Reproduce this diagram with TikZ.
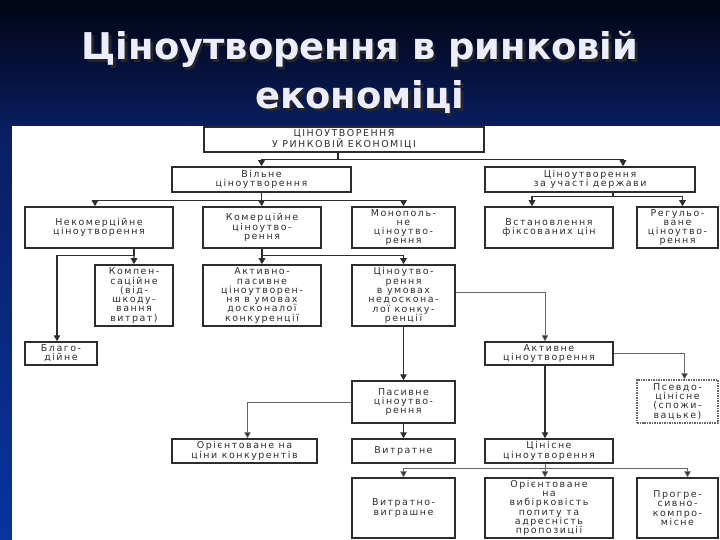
\documentclass[tikz,border=0pt]{standalone}
\usepackage{fontspec}
\setmainfont{DejaVu Sans}
\newfontfamily\boxfont[LetterSpace=16]{DejaVu Sans}
\usetikzlibrary{arrows.meta,positioning,calc}
\definecolor{bgtop}{RGB}{0,4,18}
\definecolor{bgmid}{RGB}{10,30,98}
\definecolor{bgbot}{RGB}{8,52,158}
\definecolor{titlewhite}{RGB}{236,238,255}
\definecolor{lnc}{RGB}{45,45,45}

\begin{document}
\begin{tikzpicture}[
  x=1bp, y=-1bp,
  box/.style={rectangle, draw=lnc, line width=1.5bp, fill=white,
              align=center, text=black!82, inner sep=0pt,
              font=\boxfont\fontsize{9.5}{9.3}\selectfont},
  nbox/.style={box, minimum width=103bp},
  wbox/.style={box, minimum width=128bp},
  rbox/.style={box, minimum width=81bp},
  pbox/.style={rbox, draw=black!60, densely dotted},
  ttl/.style={font=\fontsize{37}{40}\selectfont\bfseries, anchor=base},
  ln/.style={draw=lnc, line width=1.4bp},
  lnt/.style={draw=black!60, line width=0.8bp},
  arr/.style={ln, -{Triangle[length=6bp,width=6.5bp]}},
  arrt/.style={lnt, -{Triangle[length=6bp,width=6.5bp,fill=lnc]}}
]
\useasboundingbox (0,0) rectangle (720,540);
\shade[top color=bgtop, bottom color=bgmid] (0,0) rectangle (720,130);
\shade[top color=bgmid, bottom color=bgbot] (0,129.5) rectangle (720,540);
\fill[white] (12,126) rectangle (720,540);

\node[ttl, text=black!85] (shadow1) at (362.5,62.5) {Ціноутворення в ринковій};
\node[ttl, text=black!85] (shadow2) at (362.5,111.5) {економіці};
\node[ttl, text=titlewhite] (title1) at (360,60) {Ціноутворення в ринковій};
\node[ttl, text=titlewhite] (title2) at (360,109) {економіці};

\node[box, minimum width=280bp, minimum height=25bp] (top) at (344,139.5)
  {ЦІНОУТВОРЕННЯ\\У РИНКОВІЙ ЕКОНОМІЦІ};
\node[box, minimum width=179bp, minimum height=25bp] (free) at (261.5,179.5)
  {Вільне\\ціноутворення};
\node[box, minimum width=210bp, minimum height=25bp] (state) at (590,179.5)
  {Ціноутворення\\за участі держави};

\node[box, minimum width=148bp, minimum height=41bp] (nonc) at (99,227.5)
  {Некомерційне\\ціноутворення};
\node[box, minimum width=118bp, minimum height=41bp] (comm) at (262,227.5)
  {Комерційне\\ціноутво-\\рення};
\node[nbox, minimum height=41bp] (mono) at (403.5,227.5)
  {Монополь-\\не\\ціноутво-\\рення};
\node[wbox, minimum height=41bp] (fixed) at (549,227.5)
  {Встановлення\\фіксованих цін};
\node[rbox, minimum height=41bp] (regul) at (677.5,227.5)
  {Регульо-\\ване\\ціноутво-\\рення};

\node[box, minimum width=78bp, minimum height=61bp] (comp) at (134,295.5)
  {Компен-\\саційне\\(від-\\шкоду-\\вання\\витрат)};
\node[box, minimum width=118bp, minimum height=61bp] (actpas) at (262,295.5)
  {Активно-\\пасивне\\ціноутворен-\\ня в умовах\\досконалої\\конкуренції};
\node[nbox, minimum height=61bp] (imperf) at (403.5,295.5)
  {Ціноутво-\\рення\\в умовах\\недоскона-\\лої конку-\\ренції};

\node[box, minimum width=72bp, minimum height=23bp] (charity) at (61,353.5)
  {Благо-\\дійне};
\node[wbox, minimum height=23bp] (active) at (549,353.5)
  {Активне\\ціноутворення};

\node[nbox, minimum height=42bp] (passive) at (403.5,402)
  {Пасивне\\ціноутво-\\рення};
\node[pbox, minimum height=43bp] (pseudo) at (677.5,401.5)
  {Псевдо-\\цінісне\\(спожи-\\вацьке)};

\node[box, minimum width=145bp, minimum height=24bp] (compet) at (244.5,451)
  {Орієнтоване на\\ціни конкурентів};
\node[nbox, minimum height=24bp] (cost) at (403.5,451) {Витратне};
\node[wbox, minimum height=24bp] (value) at (549,451)
  {Цінісне\\ціноутворення};

\node[nbox, minimum height=60bp] (costwin) at (403.5,508)
  {Витратно-\\виграшне};
\node[wbox, minimum height=60bp] (demand) at (549,508)
  {Орієнтоване\\на\\вибірковість\\попиту та\\адресність\\пропозиції};
\node[rbox, minimum height=60bp] (progr) at (677.5,508)
  {Прогре-\\сивно-\\компро-\\місне};

\draw[ln] ([xshift=-6bp]top.south) -- ++(0,7) coordinate (jtop);
\draw[arr] (jtop) -| (free.north);
\draw[arr] (jtop) -| ([xshift=33bp]state.north);

\draw[ln] (free.south) -- ++(0,8) coordinate (jfree);
\draw[arr] (jfree) -| ([xshift=-4bp]nonc.north);
\draw[arr] (jfree) -- (comm.north);
\draw[arr] (jfree) -| (mono.north);

\draw[ln] ([xshift=23bp]state.south) -- ++(0,4) coordinate (jstate);
\draw[arr] (jstate) -| ([xshift=-17bp]fixed.north);
\draw[arr] (jstate) -| ([xshift=5bp]regul.north);

\draw[ln] ([xshift=35bp]nonc.south) -- ++(0,7) coordinate (jnonc);
\draw[arr] (jnonc) -- (comp.north);
\draw[arr] (jnonc) -| ([xshift=-4bp]charity.north);

\draw[ln] (comm.south) -- ++(0,7) coordinate (jcomm);
\draw[arr] (jcomm) -- (actpas.north);
\draw[arr] (jcomm) -| (imperf.north);

\draw[arrt] ([yshift=3bp]imperf.east) -| ([xshift=-4bp]active.north);
\draw[arr] (imperf) -- (passive);
\draw[arrt] (active.east) -| ([xshift=7bp]pseudo.north);
\draw[arr] ([xshift=-4bp]active.south) -- ([xshift=-4bp]value.north);

\draw[arrt] (passive.west) -| ([xshift=3bp]compet.north);
\draw[arr] (passive) -- (cost);

\draw[lnt] ([xshift=-4bp]value.south) -- ++(0,5) coordinate (jval);
\draw[arrt] (jval) -| (costwin.north);
\draw[arrt] (jval) -- ([xshift=-4bp]demand.north);
\draw[arrt] (jval) -| ([xshift=10bp]progr.north);
\end{tikzpicture}
\end{document}
